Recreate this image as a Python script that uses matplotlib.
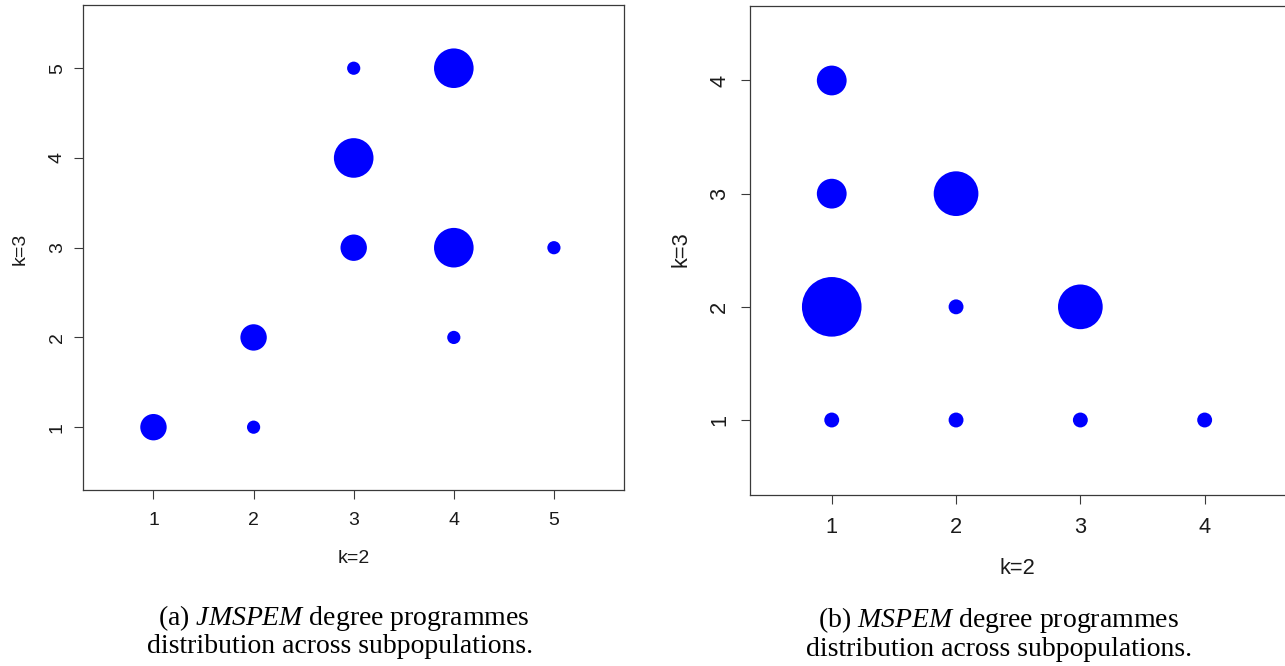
import matplotlib
matplotlib.use('Agg')
import matplotlib.pyplot as plt

# ==========================================
# data: (k=2, k=3) grid positions and counts
# ==========================================
jm_k2 = [1, 2, 2, 3, 3, 3, 4, 4, 4, 5]
jm_k3 = [1, 1, 2, 3, 4, 5, 2, 3, 5, 3]
jm_cnt = [2, 1, 2, 2, 3, 1, 1, 3, 3, 1]

ms_k2 = [1, 2, 3, 4, 1, 2, 3, 1, 2, 1]
ms_k3 = [1, 1, 1, 1, 2, 2, 2, 3, 3, 4]
ms_cnt = [1, 1, 1, 1, 4, 1, 3, 2, 3, 2]

jm_ticks = [1, 2, 3, 4, 5]
ms_ticks = [1, 2, 3, 4]

caption_a = ['(a) $\\mathit{JMSPEM}$ degree programmes', 'distribution across subpopulations.']
caption_b = ['(b) $\\mathit{MSPEM}$ degree programmes', 'distribution across subpopulations.']

W, H = 1285, 666
DPI = 100
PX = 72.0 / DPI  # points per pixel

plt.rcParams['font.family'] = ['Liberation Sans', 'DejaVu Sans']
plt.rcParams['mathtext.fontset'] = 'custom'
plt.rcParams['mathtext.rm'] = 'Liberation Serif'
plt.rcParams['mathtext.it'] = 'Liberation Serif:italic'

fig = plt.figure(figsize=(W / DPI, H / DPI), dpi=DPI)


def fx(px):
    return px / W


def fy(py):
    return 1 - py / H


def bubble_panel(rect, xs, ys, cnt, ticks, lim, base_px, fsize, xpad, ypad):
    ax = fig.add_axes(rect)
    sizes = [(c * base_px * PX) ** 2 for c in cnt]
    ax.scatter(xs, ys, s=sizes, color='#0000ff', linewidths=0, zorder=3)
    ax.set_xlim(*lim)
    ax.set_ylim(*lim)
    ax.set_xticks(ticks)
    ax.set_yticks(ticks)
    for sp in ax.spines.values():
        sp.set_color('#3a3a3a')
        sp.set_linewidth(0.9)
    ax.tick_params(axis='both', length=6.7, width=0.8, color='#3a3a3a',
                   labelsize=fsize, labelcolor='#1a1a1a')
    ax.tick_params(axis='x', pad=xpad)
    ax.tick_params(axis='y', pad=ypad, labelrotation=90)
    for lab in ax.get_yticklabels():
        lab.set_va('center')
    return ax


# left panel (JMSPEM)
bubble_panel([fx(83.4), fy(490), fx(624 - 83.4), (490 - 5.4) / H],
             jm_k2, jm_k3, jm_cnt, jm_ticks, (0.3, 5.7), 13.2, 14, 8.8, 6.0)
fig.text(fx(354), fy(563), 'k=2', fontsize=14, color='#1a1a1a', ha='center', va='baseline')
fig.text(fx(25), fy(249), 'k=3', fontsize=14, color='#1a1a1a', ha='center', va='baseline',
         rotation=90, rotation_mode='anchor')

# right panel (MSPEM)
bubble_panel([fx(749.7), fy(494.7), fx(1286.7 - 749.7), (494.7 - 5.8) / H],
             ms_k2, ms_k3, ms_cnt, ms_ticks, (0.34, 4.66), 14.9, 15.7, 9.1, 7.3)
fig.text(fx(1017), fy(574), 'k=2', fontsize=15.7, color='#1a1a1a', ha='center', va='baseline')
fig.text(fx(686), fy(249.5), 'k=3', fontsize=15.7, color='#1a1a1a', ha='center', va='baseline',
         rotation=90, rotation_mode='anchor')

# captions
cap_font = dict(family='Liberation Serif', fontsize=20, color='black', ha='center', va='baseline')
fig.text(fx(344), fy(625), caption_a[0], **cap_font)
fig.text(fx(340), fy(653), caption_a[1], **cap_font)
fig.text(fx(998), fy(627), caption_b[0], **cap_font)
fig.text(fx(999), fy(656), caption_b[1], **cap_font)

fig.savefig('out.png', dpi=DPI)
